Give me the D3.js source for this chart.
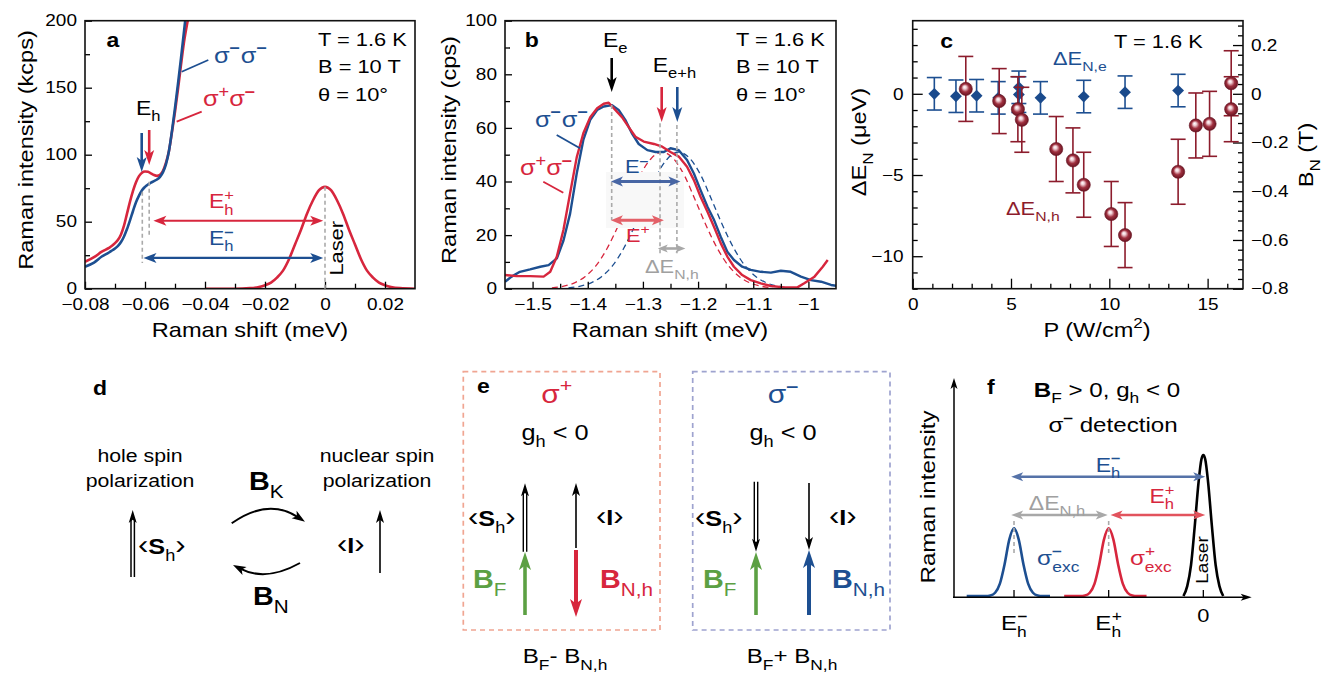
<!DOCTYPE html>
<html>
<head>
<meta charset="utf-8">
<script src="https://cdn.jsdelivr.net/npm/d3@7"></script>
<style>
  body { margin: 0; background: #fff; }
</style>
</head>
<body>
<script>
// ---- data ----
// panel a : Raman shift (meV) vs intensity (kcps)
const aBlue = [[-0.080,16.4],[-0.077,19.5],[-0.0744,24],[-0.072,27],[-0.071,28.5],[-0.070,30],[-0.069,32],
  [-0.068,34.8],[-0.067,39],[-0.066,44.5],[-0.065,51],[-0.064,58],[-0.063,64.5],[-0.062,69.5],[-0.061,73.5],
  [-0.060,76],[-0.059,77.8],[-0.058,79.2],[-0.057,80.3],[-0.056,81.5],[-0.055,83.5],[-0.054,87],[-0.053,93],
  [-0.052,103],[-0.051,118],[-0.050,135],[-0.049,153],[-0.048,172],[-0.047,192],[-0.0465,202]];
const aRed = [[-0.080,20.1],[-0.077,23.5],[-0.0744,27.6],[-0.072,30.5],[-0.071,32],[-0.070,34],[-0.069,36.5],
  [-0.068,40.5],[-0.067,47],[-0.066,56],[-0.065,65],[-0.064,73],[-0.063,79.5],[-0.062,84],[-0.061,86.6],
  [-0.060,87.5],[-0.059,87.3],[-0.058,86],[-0.057,84.8],[-0.056,84.2],[-0.055,85],[-0.054,88],[-0.053,94],
  [-0.052,103],[-0.051,117],[-0.050,132],[-0.049,149],[-0.048,167],[-0.047,184],[-0.0455,203]];
const aLaser = [[-0.04,0],[-0.03,0],[-0.025,0.4],[-0.022,1.3],[-0.02,2.6],[-0.018,4.6],[-0.016,8.3],[-0.014,13.5],
  [-0.012,22],[-0.010,33],[-0.008,44],[-0.006,56],[-0.004,66],[-0.002,73.5],[0,76],[0.002,73.5],[0.004,66],
  [0.006,56],[0.008,44],[0.010,33],[0.012,22],[0.014,13.5],[0.016,8.3],[0.018,4.6],[0.02,2.6],[0.022,1.3],
  [0.025,0.4],[0.03,0]];

// panel b : Raman shift (meV) vs intensity (cps)
const bBlue = [[-1.55,2.6],[-1.538,4.5],[-1.523,6.3],[-1.5045,7.2],[-1.486,8.2],[-1.471,8.8],[-1.456,11.3],
  [-1.444,18],[-1.432,28],[-1.42,43],[-1.408,55.5],[-1.3955,63],[-1.383,66.7],[-1.371,68],[-1.356,68.5],
  [-1.344,66.7],[-1.332,63],[-1.32,58],[-1.3076,54],[-1.292,51.7],[-1.277,51],[-1.262,51],[-1.25,52.4],
  [-1.235,51.7],[-1.22,48],[-1.2076,43],[-1.1955,36.8],[-1.183,30.6],[-1.171,25.6],[-1.159,19.4],[-1.147,13.8],
  [-1.135,10.7],[-1.12,8.2],[-1.1045,7],[-1.0864,6.3],[-1.068,6],[-1.05,6.7],[-1.032,6.3],[-1.0136,4.5],
  [-0.9955,3.2],[-0.977,2.6],[-0.959,1.4],[-0.948,1.0]];
const bRed = [[-1.55,5.1],[-1.529,4.7],[-1.5045,4.7],[-1.48,4.5],[-1.468,6.3],[-1.456,12],[-1.444,22],
  [-1.432,35.6],[-1.42,49],[-1.408,58],[-1.3955,64],[-1.383,67.3],[-1.371,69],[-1.362,69.4],[-1.35,66.7],
  [-1.338,64],[-1.326,60.4],[-1.3136,56.7],[-1.2985,54.9],[-1.28,54],[-1.265,53],[-1.25,51],[-1.235,49.3],
  [-1.22,45.5],[-1.2076,40.5],[-1.1955,34.3],[-1.183,28.7],[-1.171,23],[-1.159,17],[-1.147,12],[-1.135,8.2],
  [-1.12,5.1],[-1.1045,3.2],[-1.0864,2],[-1.068,1],[-1.044,0.5],[-1.02,0.5],[-1.0076,2],[-0.989,4.5],
  [-0.974,8.2],[-0.965,10.7]];
const bRedFit = [[-1.465,0.3],[-1.445,0.9],[-1.425,2.1],[-1.405,4.5],[-1.385,8.6],[-1.365,15],[-1.345,23.4],
  [-1.325,33],[-1.305,42.3],[-1.285,48.6],[-1.265,51],[-1.245,48.6],[-1.225,42.3],[-1.205,33],[-1.185,23.4],
  [-1.165,15],[-1.145,8.6],[-1.125,4.5],[-1.105,2.1],[-1.085,0.9],[-1.065,0.3]];
const bBlueFit = [[-1.435,0.3],[-1.415,0.9],[-1.395,2.1],[-1.375,4.5],[-1.355,8.6],[-1.335,15],[-1.315,23.4],
  [-1.295,33],[-1.275,42.3],[-1.255,48.6],[-1.235,51],[-1.215,48.6],[-1.195,42.3],[-1.175,33],[-1.155,23.4],
  [-1.135,15],[-1.115,8.6],[-1.095,4.5],[-1.075,2.1],[-1.055,0.9],[-1.035,0.3]];

// panel c : power (W/cm2) vs Overhauser shift (ueV)
const powerE = [1.1, 2.2, 3.25, 4.35, 5.4, 5.4, 6.5, 8.7, 10.8, 13.5];
const shiftE = [0, -0.15, -0.12, -0.25, 0.4, -0.05, -0.25, -0.17, 0.1, 0.2];
const errE = [1.0, 1.0, 1.0, 1.0, 1.0, 1.1, 1.0, 1.0, 1.0, 1.0];
const powerH = [2.7, 4.4, 5.35, 5.55, 7.3, 8.15, 8.7, 10.1, 10.8, 13.5, 14.4, 15.1, 16.2, 16.2];
const shiftH = [0.3, -0.45, -0.95, -1.6, -3.4, -4.1, -5.6, -7.4, -8.7, -4.8, -1.95, -1.85, 0.65, -0.95];
const errH = [2.0, 2.0, 2.0, 2.0, 2.0, 2.0, 2.0, 2.0, 2.0, 2.0, 2.0, 2.0, 2.0, 2.0];

// panel f : schematic spectra
const fBlue = [[-2.5,0],[-2.3,0],[-2.25,0.004],[-2.2,0.023],[-2.15,0.086],[-2.1,0.224],[-2.05,0.40],[-2.0,0.48],
  [-1.95,0.40],[-1.9,0.224],[-1.85,0.086],[-1.8,0.023],[-1.75,0.004],[-1.7,0],[-1.62,0]];
const fRed = [[-1.47,0],[-1.3,0],[-1.25,0.004],[-1.2,0.023],[-1.15,0.086],[-1.1,0.224],[-1.05,0.40],[-1.0,0.48],
  [-0.95,0.40],[-0.9,0.224],[-0.85,0.086],[-0.8,0.023],[-0.75,0.004],[-0.7,0],[-0.6,0]];
const fLaser = [[-0.21,0],[-0.17,0.07],[-0.13,0.22],[-0.09,0.5],[-0.05,0.81],[-0.02,0.97],[0,1],[0.02,0.97],
  [0.05,0.81],[0.09,0.5],[0.13,0.22],[0.17,0.07],[0.21,0]];

// tick values
const aTicksX = [-0.08, -0.06, -0.04, -0.02, 0, 0.02];
const aTicksY = [0, 50, 100, 150, 200];
const bTicksX = [-1.5, -1.4, -1.3, -1.2, -1.1, -1.0];
const bTicksY = [0, 20, 40, 60, 80, 100];
const cTicksX = [0, 5, 10, 15];
const cTicksY = [-10, -5, 0];
const cTicksB = [-0.8, -0.6, -0.4, -0.2, 0, 0.2];

const red = '#d7263d', blue = '#1d4f91', dred = '#8c1c2c', green = '#5ca043', gray = '#a6a6a6';
const FONT = "'Liberation Sans', Arial, Helvetica, sans-serif";
const SX = 1.15;
const fmt = d3.format('~g');

const svg = d3.select('body').append('svg')
  .attr('width', 1323).attr('height', 674)
  .style('font-family', FONT);
const defs = svg.append('defs');

// text with simple sub/superscripts, stretched a bit to match the figure
function txt(g, x, y, parts, o = {}) {
  const size = o.size || 20;
  const gg = g.append('g')
    .attr('transform', `translate(${x},${y})` + (o.rot ? ` rotate(${o.rot})` : '') + ` scale(${SX},1)`);
  const t = gg.append('text')
    .attr('text-anchor', o.anchor || 'start')
    .attr('fill', o.fill || '#000')
    .style('font-size', size + 'px')
    .style('font-weight', o.bold ? 'bold' : null);
  if (typeof parts === 'string') parts = [[parts]];
  let off = 0;
  parts.forEach(([s, k, dx, ex]) => {
    const shift = k === 'sub' ? size * 0.32 : k === 'sup' ? -size * 0.42 : 0;
    const sp = t.append('tspan').attr('dy', shift - off).text(s);
    if (k) sp.style('font-size', (size * 0.72) + 'px');
    if (dx) sp.attr('dx', dx);
    if (ex && ex.bold) sp.style('font-weight', 'bold');
    if (ex && ex.fill) sp.attr('fill', ex.fill);
    if (ex && ex.size) sp.style('font-size', ex.size + 'px');
    off = shift;
  });
  return t;
}
const B = {bold: true};
const BR = {size: 27};

function head(g, x, y, deg, color, w, l) {
  g.append('path')
    .attr('d', `M0,0 L${-l},${-w / 2} L${-l * 0.75},0 L${-l},${w / 2}Z`)
    .attr('transform', `translate(${x},${y}) rotate(${deg})`)
    .attr('fill', color);
}

function arrow(g, x1, y1, x2, y2, color, sw, w, l, both, dbl, op) {
  const a = Math.atan2(y2 - y1, x2 - x1), deg = a * 180 / Math.PI;
  const ux = Math.cos(a), uy = Math.sin(a);
  const s = both ? 0.7 * l : 0, e = 0.7 * l;
  const gg = g.append('g').attr('opacity', op || 1);
  const offs = dbl ? [-1.7, 1.7] : [0];
  offs.forEach(o => {
    gg.append('line')
      .attr('x1', x1 + ux * s - uy * o).attr('y1', y1 + uy * s + ux * o)
      .attr('x2', x2 - ux * e - uy * o).attr('y2', y2 - uy * e + ux * o)
      .attr('stroke', color).attr('stroke-width', sw);
  });
  head(gg, x2, y2, deg, color, w, l);
  if (both) head(gg, x1, y1, deg + 180, color, w, l);
}

function curveArrow(g, x1, y1, cx, cy, x2, y2) {
  const a = Math.atan2(y2 - cy, x2 - cx);
  g.append('path')
    .attr('d', `M${x1},${y1} Q${cx},${cy} ${x2 - Math.cos(a) * 8},${y2 - Math.sin(a) * 8}`)
    .attr('fill', 'none').attr('stroke', '#000').attr('stroke-width', 2);
  head(g, x2, y2, a * 180 / Math.PI, '#000', 9, 13);
}

function vdash(g, x, y1, y2) {
  g.append('line').attr('x1', x).attr('x2', x).attr('y1', y1).attr('y2', y2)
    .attr('stroke', '#aaa').attr('stroke-width', 1.6).attr('stroke-dasharray', '4,3');
}

function styleAxis(g, size) {
  g.select('.domain').remove();
  g.selectAll('line').attr('stroke', '#000').attr('stroke-width', 1.3);
  g.selectAll('text')
    .style('font-size', size + 'px').style('font-family', FONT)
    .attr('fill', '#000').attr('transform', `scale(${SX},1)`);
}

function frame(g, x, y, w, h) {
  g.append('rect').attr('x', x).attr('y', y).attr('width', w).attr('height', h)
    .attr('fill', 'none').attr('stroke', '#111').attr('stroke-width', 1.6);
}

function clip(id, x, y, w, h) {
  defs.append('clipPath').attr('id', id)
    .append('rect').attr('x', x).attr('y', y).attr('width', w).attr('height', h);
}

const yTop = 20.7, yBot = 288.7;

// ================= panel a =================
const xa = d3.scaleLinear().domain([-0.08, 0.03]).range([85, 415]);
const ya = d3.scaleLinear().domain([0, 200]).range([yBot, yTop]);
const ga = svg.append('g');
clip('clipA', 85, yTop, 330, yBot - yTop);
const lineA = d3.line().x(d => xa(d[0])).y(d => ya(d[1])).curve(d3.curveMonotoneX);
const curvesA = ga.append('g').attr('clip-path', 'url(#clipA)');
[[aLaser, red], [aRed, red], [aBlue, blue]].forEach(([d, c]) => {
  curvesA.append('path').datum(d).attr('d', lineA)
    .attr('fill', 'none').attr('stroke', c).attr('stroke-width', 2.6);
});

ga.append('g').attr('transform', 'translate(85,0)')
  .call(d3.axisLeft(ya).tickValues(aTicksY).tickSize(-7).tickPadding(7).tickFormat(fmt))
  .call(g => styleAxis(g, 16.5));
ga.append('g').attr('transform', 'translate(85,0)')
  .call(d3.axisLeft(ya).tickValues([25, 75, 125, 175]).tickSize(-5).tickFormat(''))
  .call(g => styleAxis(g, 16.5));
ga.append('g').attr('transform', `translate(0,${yBot})`)
  .call(d3.axisBottom(xa).tickValues(aTicksX).tickSize(-7).tickPadding(10).tickFormat(fmt))
  .call(g => styleAxis(g, 16.5));
ga.append('g').attr('transform', `translate(0,${yBot})`)
  .call(d3.axisBottom(xa).tickValues([-0.07, -0.05, -0.03, -0.01, 0.01]).tickSize(-5).tickFormat(''))
  .call(g => styleAxis(g, 16.5));
frame(ga, 85, yTop, 330, yBot - yTop);

vdash(ga, xa(-0.0609), 191.7, 263);
vdash(ga, xa(-0.0586), 181.7, 235);
vdash(ga, xa(0), ya(76), yBot);
arrow(ga, xa(-0.0611), 133, xa(-0.0611), 172, blue, 2.6, 10, 15);
arrow(ga, xa(-0.0586), 130, xa(-0.0586), 165, red, 2.6, 10, 15);
arrow(ga, xa(-0.0572), ya(50.7), xa(-0.0006), ya(50.7), red, 2.2, 10, 13, true);
arrow(ga, xa(-0.0605), ya(23), xa(-0.0006), ya(23), blue, 2.2, 10, 13, true);
ga.append('line').attr('x1', 181.7).attr('y1', 71.7).attr('x2', 208.3).attr('y2', 60)
  .attr('stroke', blue).attr('stroke-width', 1.8);
ga.append('line').attr('x1', 176.7).attr('y1', 121.7).attr('x2', 201.7).attr('y2', 111.7)
  .attr('stroke', red).attr('stroke-width', 1.8);

txt(ga, 113, 47, 'a', {bold: true, size: 20, anchor: 'middle'});
['T = 1.6 K', 'B = 10 T', 'θ = 10°'].forEach((s, i) => txt(ga, 318, 45.7 + i * 27.5, s, {size: 19}));
txt(ga, 214, 62.7, [['σ'], ['–', 'sup', 0, B], ['σ', '', 1], ['–', 'sup', 0, B]], {size: 22, fill: blue});
txt(ga, 203, 106, [['σ'], ['+', 'sup'], ['σ', '', 0], ['–', 'sup', 0, B]], {size: 22, fill: red});
txt(ga, 136, 115, [['E'], ['h', 'sub']], {size: 20});
txt(ga, 209, 208.3, [['E'], ['h', 'sub'], ['+', 'sup', -8]], {size: 20, fill: red});
txt(ga, 209, 245, [['E'], ['h', 'sub'], ['–', 'sup', -8, B]], {size: 20, fill: blue});
txt(ga, 343, 248.3, 'Laser', {rot: -90, anchor: 'middle', size: 19});
txt(svg, 33, 150, 'Raman intensity (kcps)', {rot: -90, anchor: 'middle', size: 20.5});
txt(svg, 250, 336.7, 'Raman shift (meV)', {anchor: 'middle', size: 20.5});

// ================= panel b =================
const xb = d3.scaleLinear().domain([-1.55, -0.95]).range([505, 836]);
const yb = d3.scaleLinear().domain([0, 100]).range([yBot, yTop]);
const gb = svg.append('g');
clip('clipB', 505, yTop, 331, yBot - yTop);
const lineB = d3.line().x(d => xb(d[0])).y(d => yb(d[1]));
const curvesB = gb.append('g').attr('clip-path', 'url(#clipB)');

gb.append('rect').attr('x', 606).attr('y', 172).attr('width', 78).attr('height', 56).attr('fill', '#f8f8f8');
[[bRedFit, red], [bBlueFit, blue]].forEach(([d, c]) => {
  curvesB.append('path').datum(d).attr('d', lineB.curve(d3.curveMonotoneX))
    .attr('fill', 'none').attr('stroke', c).attr('stroke-width', 1.3).attr('stroke-dasharray', '6,4');
});
[[bBlue, blue], [bRed, red]].forEach(([d, c]) => {
  curvesB.append('path').datum(d).attr('d', lineB.curve(d3.curveLinear))
    .attr('fill', 'none').attr('stroke', c).attr('stroke-width', 2.4).attr('stroke-linejoin', 'round');
});

gb.append('g').attr('transform', 'translate(505,0)')
  .call(d3.axisLeft(yb).tickValues(bTicksY).tickSize(-7).tickPadding(7).tickFormat(fmt))
  .call(g => styleAxis(g, 16.5));
gb.append('g').attr('transform', 'translate(505,0)')
  .call(d3.axisLeft(yb).tickValues([10, 30, 50, 70, 90]).tickSize(-5).tickFormat(''))
  .call(g => styleAxis(g, 16.5));
gb.append('g').attr('transform', `translate(0,${yBot})`)
  .call(d3.axisBottom(xb).tickValues(bTicksX).tickSize(-7).tickPadding(10).tickFormat(fmt))
  .call(g => styleAxis(g, 16.5));
gb.append('g').attr('transform', `translate(0,${yBot})`)
  .call(d3.axisBottom(xb).tickValues([-1.45, -1.35, -1.25, -1.15, -1.05]).tickSize(-5).tickFormat(''))
  .call(g => styleAxis(g, 16.5));
frame(gb, 505, yTop, 331, yBot - yTop);

vdash(gb, xb(-1.3566), 105, 220);
vdash(gb, xb(-1.269), 123.3, 253.3);
vdash(gb, xb(-1.2384), 125, 253.3);
arrow(gb, xb(-1.3566), 58, xb(-1.3566), 92, '#000', 2.6, 10, 15);
arrow(gb, xb(-1.266), 87, xb(-1.266), 122, red, 2.6, 10, 15);
arrow(gb, xb(-1.2377), 87, xb(-1.2377), 122, blue, 2.6, 10, 15);
arrow(gb, xb(-1.358), yb(40), xb(-1.232), yb(40), '#3f5fa0', 3, 10, 12, true, false, 0.95);
arrow(gb, xb(-1.358), yb(25.5), xb(-1.262), yb(25.5), '#e0464f', 3, 10, 12, true, false, 0.85);
arrow(gb, xb(-1.273), yb(15), xb(-1.223), yb(15), '#a8a8a8', 2.6, 8, 10, true);
gb.append('line').attr('x1', 556.7).attr('y1', 135).attr('x2', 580).attr('y2', 148.3)
  .attr('stroke', blue).attr('stroke-width', 1.8);
gb.append('line').attr('x1', 543.3).attr('y1', 181.7).attr('x2', 563.3).attr('y2', 192.7)
  .attr('stroke', red).attr('stroke-width', 1.8);

txt(gb, 531.7, 47.3, 'b', {bold: true, size: 20, anchor: 'middle'});
['T = 1.6 K', 'B = 10 T', 'θ = 10°'].forEach((s, i) => txt(gb, 736, 45.7 + i * 27.5, s, {size: 19}));
txt(gb, 603, 46.7, [['E'], ['e', 'sub']], {size: 20});
txt(gb, 652.7, 71.7, [['E'], ['e+h', 'sub']], {size: 20});
txt(gb, 535, 126.7, [['σ'], ['–', 'sup', 0, B], ['σ', '', 1], ['–', 'sup', 0, B]], {size: 22, fill: blue});
txt(gb, 520, 175, [['σ'], ['+', 'sup'], ['σ', '', 0], ['–', 'sup', 0, B]], {size: 22, fill: red});
txt(gb, 625, 173.3, [['E'], ['–', 'sup', 0, B]], {size: 19, fill: blue});
txt(gb, 626, 241.7, [['E'], ['+', 'sup']], {size: 19, fill: red});
txt(gb, 645, 273.3, [['ΔE'], ['N,h', 'sub']], {size: 19, fill: '#a0a0a0'});
txt(svg, 456, 150, 'Raman intensity (cps)', {rot: -90, anchor: 'middle', size: 20.5});
txt(svg, 670, 336.7, 'Raman shift (meV)', {anchor: 'middle', size: 20.5});

// ================= panel c =================
const xc = d3.scaleLinear().domain([0, 16.8]).range([912.7, 1243]);
const yc = d3.scaleLinear().domain([-12, 4.5]).range([yBot, yTop]);
const yc2 = d3.scaleLinear().domain([-0.8, 0.3]).range([yBot, yTop]);
const gc = svg.append('g');

const grad = defs.append('radialGradient').attr('id', 'ball')
  .attr('cx', 0.5).attr('cy', 0.5).attr('r', 0.55).attr('fx', 0.4).attr('fy', 0.35);
[[0, '#ffffff'], [0.22, '#f0d0d6'], [0.55, '#a0303f'], [1, '#5e0f1c']].forEach(([o, c]) => {
  grad.append('stop').attr('offset', o).attr('stop-color', c);
});

gc.append('g').attr('transform', 'translate(912.7,0)')
  .call(d3.axisLeft(yc).tickValues(cTicksY).tickSize(-10).tickPadding(8).tickFormat(fmt))
  .call(g => styleAxis(g, 16.5));
gc.append('g').attr('transform', 'translate(912.7,0)')
  .call(d3.axisLeft(yc).tickValues(d3.range(-12, 5).filter(v => v % 5 !== 0)).tickSize(-5).tickFormat(''))
  .call(g => styleAxis(g, 16.5));
gc.append('g').attr('transform', `translate(0,${yBot})`)
  .call(d3.axisBottom(xc).tickValues(cTicksX).tickSize(-10).tickPadding(10).tickFormat(fmt))
  .call(g => styleAxis(g, 16.5));
gc.append('g').attr('transform', `translate(0,${yBot})`)
  .call(d3.axisBottom(xc).tickValues(d3.range(1, 17).filter(v => v % 5 !== 0)).tickSize(-5).tickFormat(''))
  .call(g => styleAxis(g, 16.5));
gc.append('g').attr('transform', 'translate(1243,0)')
  .call(d3.axisRight(yc2).tickValues(cTicksB).tickSize(-10).tickPadding(7).tickFormat(fmt))
  .call(g => styleAxis(g, 16.5));
gc.append('g').attr('transform', 'translate(1243,0)')
  .call(d3.axisRight(yc2).tickValues(d3.range(-20, 8).filter(i => i % 5 !== 0).map(i => i * 0.04)).tickSize(-5).tickFormat(''))
  .call(g => styleAxis(g, 16.5));
frame(gc, 912.7, yTop, 1243 - 912.7, yBot - yTop);

function errBars(g, xs, ys, es, color) {
  xs.forEach((x, i) => {
    const px = xc(x), y1 = yc(ys[i] + es[i]), y2 = yc(ys[i] - es[i]);
    g.append('line').attr('x1', px).attr('x2', px).attr('y1', y1).attr('y2', y2)
      .attr('stroke', color).attr('stroke-width', 1.6);
    [y1, y2].forEach(y => g.append('line').attr('x1', px - 7.5).attr('x2', px + 7.5).attr('y1', y).attr('y2', y)
      .attr('stroke', color).attr('stroke-width', 1.6));
  });
}
errBars(gc, powerE, shiftE, errE, blue);
gc.selectAll('path.dia').data(powerE).join('path').attr('class', 'dia')
  .attr('d', d3.symbol(d3.symbolSquare, 70))
  .attr('transform', (d, i) => `translate(${xc(d)},${yc(shiftE[i])}) rotate(45)`)
  .attr('fill', '#1a4a8c');
errBars(gc, powerH, shiftH, errH, dred);
gc.selectAll('circle.ball').data(powerH).join('circle').attr('class', 'ball')
  .attr('cx', d => xc(d)).attr('cy', (d, i) => yc(shiftH[i])).attr('r', 6.6)
  .attr('fill', 'url(#ball)').attr('stroke', '#6a1424').attr('stroke-width', 0.6);

txt(gc, 946.7, 48, 'c', {bold: true, size: 20, anchor: 'middle'});
txt(gc, 1114, 48, 'T = 1.6 K', {size: 19});
txt(gc, 1053, 65, [['ΔE'], ['N,e', 'sub']], {size: 19, fill: blue});
txt(gc, 1006, 215, [['ΔE'], ['N,h', 'sub']], {size: 19, fill: dred});
txt(svg, 866, 142, [['ΔE'], ['N', 'sub'], [' (μeV)']], {rot: -90, anchor: 'middle', size: 20.5});
txt(svg, 1313, 155, [['B'], ['N', 'sub'], [' (T)']], {rot: -90, anchor: 'middle', size: 20.5});
txt(svg, 1097, 336.7, [['P (W/cm'], ['2', 'sup'], [')']], {anchor: 'middle', size: 20.5});

// ================= panel d =================
const gd = svg.append('g');
txt(gd, 93, 395, 'd', {bold: true, size: 20});
txt(gd, 140, 461.7, 'hole spin', {anchor: 'middle', size: 18.5});
txt(gd, 140, 486.7, 'polarization', {anchor: 'middle', size: 18.5});
txt(gd, 377, 461.7, 'nuclear spin', {anchor: 'middle', size: 18.5});
txt(gd, 377, 486.7, 'polarization', {anchor: 'middle', size: 18.5});
arrow(gd, 132.7, 577, 132.7, 510, '#000', 1.5, 8, 13, false, true);
arrow(gd, 380, 573, 380, 510, '#000', 1.6, 8, 13);
txt(gd, 138, 554, [['‹', '', 0, BR], ['S', '', 0, B], ['h', 'sub'], ['›', '', 0, BR]], {size: 22});
txt(gd, 337, 553, [['‹', '', 0, BR], ['I', '', 0, B], ['›', '', 0, BR]], {size: 22});
curveArrow(gd, 231.7, 523.3, 268, 497.5, 305, 521.7);
curveArrow(gd, 300, 563, 266, 582, 233, 565);
txt(gd, 249, 490, [['B', '', 0, B], ['K', 'sub']], {size: 25});
txt(gd, 253, 605, [['B', '', 0, B], ['N', 'sub']], {size: 25});

// ================= panel e =================
const ge = svg.append('g');
ge.append('rect').attr('x', 463.3).attr('y', 371.7).attr('width', 196.7).attr('height', 258.3)
  .attr('fill', 'none').attr('stroke', '#f0a592').attr('stroke-width', 1.7).attr('stroke-dasharray', '5,4');
ge.append('rect').attr('x', 692.7).attr('y', 371.7).attr('width', 197.3).attr('height', 258.3)
  .attr('fill', 'none').attr('stroke', '#9ea3cf').attr('stroke-width', 1.7).attr('stroke-dasharray', '5,4');
txt(ge, 477, 393, 'e', {bold: true, size: 20});

// sigma+ box
txt(ge, 556.7, 403, [['σ'], ['+', 'sup']], {anchor: 'middle', size: 26, fill: red});
txt(ge, 555, 440, [['g'], ['h', 'sub'], [' < 0', '']], {anchor: 'middle', size: 22});
arrow(ge, 525, 551.7, 525, 483.3, '#000', 1.4, 8, 13, false, true);
arrow(ge, 525, 615, 525, 552, green, 3.6, 12, 18);
arrow(ge, 576, 548, 576, 483, '#000', 1.6, 8, 13);
arrow(ge, 576, 550, 576, 617, red, 4, 12, 18);
txt(ge, 468, 526, [['‹', '', 0, BR], ['S', '', 0, B], ['h', 'sub'], ['›', '', 0, BR]], {size: 22});
txt(ge, 596, 525, [['‹', '', 0, BR], ['I', '', 0, B], ['›', '', 0, BR]], {size: 22});
txt(ge, 473, 588, [['B', '', 0, B], ['F', 'sub']], {size: 25, fill: green});
txt(ge, 600, 588, [['B', '', 0, B], ['N,h', 'sub']], {size: 25, fill: red});
txt(ge, 565, 663, [['B'], ['F', 'sub'], ['- B', ''], ['N,h', 'sub']], {anchor: 'middle', size: 21});

// sigma- box
txt(ge, 783, 403, [['σ'], ['–', 'sup', 0, B]], {anchor: 'middle', size: 26, fill: blue});
txt(ge, 783, 440, [['g'], ['h', 'sub'], [' < 0', '']], {anchor: 'middle', size: 22});
arrow(ge, 756, 481.7, 756, 551.7, '#000', 1.4, 8, 13, false, true);
arrow(ge, 756, 615, 756, 552, green, 3.6, 12, 18);
arrow(ge, 809, 483, 809, 550, '#000', 1.6, 8, 13);
arrow(ge, 809, 615, 809, 550, blue, 4, 12, 18);
txt(ge, 695, 526, [['‹', '', 0, BR], ['S', '', 0, B], ['h', 'sub'], ['›', '', 0, BR]], {size: 22});
txt(ge, 829, 525, [['‹', '', 0, BR], ['I', '', 0, B], ['›', '', 0, BR]], {size: 22});
txt(ge, 703, 588, [['B', '', 0, B], ['F', 'sub']], {size: 25, fill: green});
txt(ge, 832, 588, [['B', '', 0, B], ['N,h', 'sub']], {size: 25, fill: blue});
txt(ge, 792, 663, [['B'], ['F', 'sub'], ['+ B', ''], ['N,h', 'sub']], {anchor: 'middle', size: 21});

// ================= panel f =================
const xf = d3.scaleLinear().domain([-2.634, 0.511]).range([954, 1251.7]);
const yf = d3.scaleLinear().domain([0, 1]).range([596, 455]);
const gf = svg.append('g');
const lineF = d3.line().x(d => xf(d[0])).y(d => yf(d[1])).curve(d3.curveMonotoneX);
[[fBlue, blue], [fRed, red], [fLaser, '#000']].forEach(([d, c]) => {
  gf.append('path').datum(d).attr('d', lineF)
    .attr('fill', 'none').attr('stroke', c).attr('stroke-width', 2.6);
});
arrow(gf, 954, 598, 954, 378, '#000', 1.5, 7, 11);
arrow(gf, 953, 597.3, 1251.7, 597.3, '#000', 1.5, 7, 11);
[-2, -1, 0].forEach(v => gf.append('line').attr('x1', xf(v)).attr('x2', xf(v)).attr('y1', 597).attr('y2', 590)
  .attr('stroke', '#000').attr('stroke-width', 1.3));
vdash(gf, xf(-2), 521, 553);
vdash(gf, xf(-1), 521, 553);
arrow(gf, xf(-2.03), 476.7, xf(0.02), 476.7, '#5572a8', 2.4, 9, 12, true);
arrow(gf, xf(-2.03), 515, xf(-1.01), 515, '#a8a8a8', 2.4, 9, 12, true);
arrow(gf, xf(-0.98), 515, xf(0.02), 515, '#e2535d', 2.4, 9, 12, true);

txt(gf, 987, 394, 'f', {bold: true, size: 20});
txt(gf, 1107, 396.7, [['B', '', 0, B], ['F', 'sub'], [' > 0, g', ''], ['h', 'sub'], [' < 0', '']], {anchor: 'middle', size: 21});
txt(gf, 1113, 431.7, [['σ'], ['–', 'sup', 0, B], [' detection', '']], {anchor: 'middle', size: 21});
txt(gf, 1108, 471.7, [['E'], ['h', 'sub'], ['–', 'sup', -8, B]], {anchor: 'middle', size: 20, fill: blue});
txt(gf, 1057, 510, [['ΔE'], ['N,h', 'sub']], {anchor: 'middle', size: 20, fill: '#a0a0a0'});
txt(gf, 1162, 503, [['E'], ['h', 'sub'], ['+', 'sup', -8]], {anchor: 'middle', size: 20, fill: red});
txt(gf, 1037, 565, [['σ'], ['–', 'sup', 0, B], ['exc', 'sub', -8]], {size: 21, fill: blue});
txt(gf, 1130, 565, [['σ'], ['+', 'sup'], ['exc', 'sub', -9]], {size: 21, fill: red});
txt(gf, xf(-2), 630, [['E'], ['h', 'sub'], ['–', 'sup', -8, B]], {anchor: 'middle', size: 21});
txt(gf, xf(-1), 630, [['E'], ['h', 'sub'], ['+', 'sup', -8]], {anchor: 'middle', size: 21});
txt(gf, xf(0), 621.7, '0', {anchor: 'middle', size: 19});
txt(gf, 1208, 560, 'Laser', {rot: -90, anchor: 'middle', size: 16.5});
txt(gf, 935, 497, 'Raman intensity', {rot: -90, anchor: 'middle', size: 21});
</script>
</body>
</html>
